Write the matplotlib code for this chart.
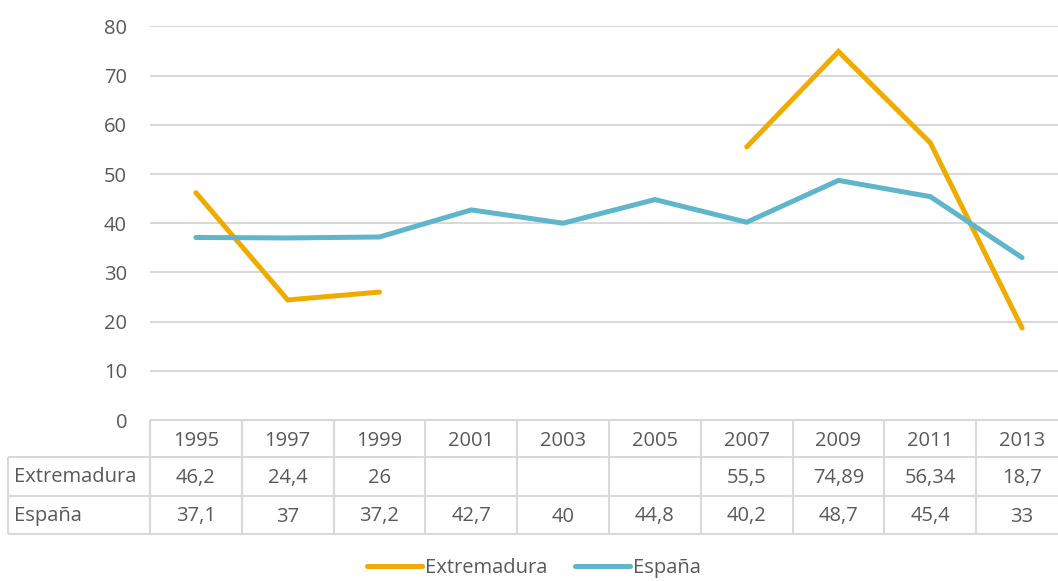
import numpy as np
import matplotlib
matplotlib.use("Agg")
import matplotlib.pyplot as plt
from matplotlib.lines import Line2D

plt.rcParams['font.family'] = ['Open Sans', 'DejaVu Sans']

years = ["1995", "1997", "1999", "2001", "2003", "2005", "2007", "2009", "2011", "2013"]
extremadura = [46.2, 24.4, 26, np.nan, np.nan, np.nan, 55.5, 74.89, 56.34, 18.7]
espana = [37.1, 37, 37.2, 42.7, 40, 44.8, 40.2, 48.7, 45.4, 33]
extremadura_labels = ["46,2", "24,4", "26", "", "", "", "55,5", "74,89", "56,34", "18,7"]
espana_labels = ["37,1", "37", "37,2", "42,7", "40", "44,8", "40,2", "48,7", "45,4", "33"]
series_names = ["Extremadura", "España"]
yticks = [0, 10, 20, 30, 40, 50, 60, 70, 80]

C_EXT = "#F0AB00"
C_ESP = "#5FB5CB"
C_TXT = "#595959"
C_GRID = "#D9D9D9"
FS = 14.5

W, H = 1058, 581
fig = plt.figure(figsize=(W / 100, H / 100), dpi=100)

def fx(px):
    return px / W

def fy(py):
    return 1 - py / H

left, right = 150, 150 + 91.8 * 10
top, bottom = 26.4, 420
ax = fig.add_axes([fx(left), fy(bottom), fx(right - left), (bottom - top) / H])
x = np.arange(len(years))
ax.set_xlim(-0.5, len(years) - 0.5)
ax.set_ylim(0, 80)
ax.set_yticks(yticks)
ax.set_yticklabels([str(v) for v in yticks], fontsize=FS, color=C_TXT)
ax.tick_params(axis='y', length=0, pad=16.5)
ax.set_xticks([])
for s in ax.spines.values():
    s.set_visible(False)
for v in yticks[1:]:
    ax.axhline(v, color=C_GRID, lw=1.5, zorder=1)

ax.plot(x, extremadura, color=C_EXT, lw=3.6, solid_capstyle='round', solid_joinstyle='miter', zorder=3)
ax.plot(x, espana, color=C_ESP, lw=3.6, solid_capstyle='round', solid_joinstyle='miter', zorder=3)

# data table
row_top, row1, row2, row_bot = 420, 457, 496, 534
tax = fig.add_axes([fx(left), fy(row_bot), fx(right - left), (row_bot - row_top) / H])
tax.set_xlim(-0.5, len(years) - 0.5)
tax.set_ylim(row_bot, row_top)
tax.axis('off')
colw = 91.8
x_lab_left = -0.5 - (left - 8) / colw
lkw = dict(color=C_GRID, lw=1.5, clip_on=False, solid_capstyle='butt')
tax.plot([-0.5, len(years) - 0.5], [row_top, row_top], **lkw)
for yy in (row1, row2, row_bot):
    tax.plot([x_lab_left, len(years) - 0.5], [yy, yy], **lkw)
for i in range(len(years) + 1):
    tax.plot([i - 0.5, i - 0.5], [row_top, row_bot], **lkw)
tax.plot([x_lab_left, x_lab_left], [row1, row_bot], **lkw)

tkw = dict(fontsize=FS, color=C_TXT, ha='center', va='center', clip_on=False)
for i, yr in enumerate(years):
    tax.text(i, (row_top + row1) / 2 + 2, yr, **tkw)
    tax.text(i, (row1 + row2) / 2 + 1.5, extremadura_labels[i], **tkw)
    tax.text(i, (row2 + row_bot) / 2 + 1.5, espana_labels[i], **tkw)
tax.text(x_lab_left + 6 / colw, (row1 + row2) / 2 + 1, series_names[0], fontsize=FS, color=C_TXT,
         ha='left', va='center', clip_on=False)
tax.text(x_lab_left + 6 / colw, (row2 + row_bot) / 2 + 1, series_names[1], fontsize=FS, color=C_TXT,
         ha='left', va='center', clip_on=False)

handles = [Line2D([], [], color=C_EXT, lw=3.6, solid_capstyle='round'),
           Line2D([], [], color=C_ESP, lw=3.6, solid_capstyle='round')]
leg = fig.legend(handles, series_names, loc='center', bbox_to_anchor=(fx(534), fy(568)),
                 ncol=2, frameon=False, fontsize=FS, handlelength=2.75, handletextpad=0.15,
                 columnspacing=1.35)
for t in leg.get_texts():
    t.set_color(C_TXT)

fig.savefig("out.png", dpi=100)
